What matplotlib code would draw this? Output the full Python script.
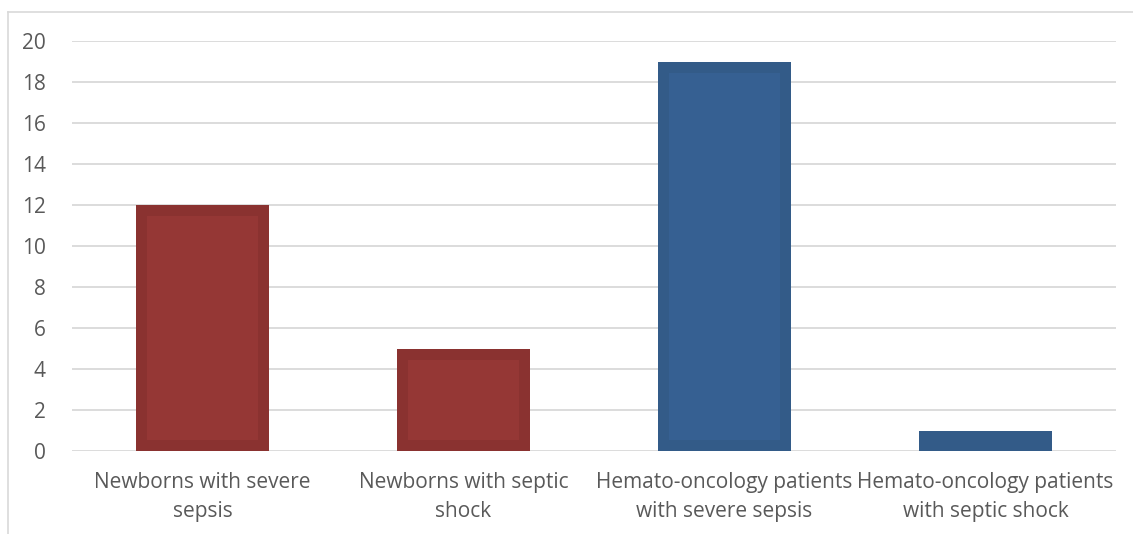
import numpy as np
import matplotlib.pyplot as plt
from matplotlib.lines import Line2D

categories = ["Newborns with severe\nsepsis", "Newborns with septic\nshock",
              "Hemato-oncology patients\nwith severe sepsis", "Hemato-oncology patients\nwith septic shock"]
values = [12, 5, 19, 1]
fill_colors = ["#953735", "#953735", "#366092", "#366092"]
edge_colors = ["#8A3230", "#8A3230", "#335B88", "#335B88"]
yticks = [0, 2, 4, 6, 8, 10, 12, 14, 16, 18, 20]

plt.rcParams['font.family'] = ['Open Sans', 'DejaVu Sans']

W, H = 1133, 534
fig = plt.figure(figsize=(W / 100, H / 100), dpi=100)
ax = fig.add_axes([72 / W, (H - 451) / H, (1116 - 72) / W, (451 - 41) / H])

x = np.arange(len(values))
bw = 0.51
ax.bar(x, values, width=bw, color=edge_colors, zorder=2)

# inner lighter rectangle, inset by ~11 px on each side
px_x = 4 / (1116 - 72)      # data units per pixel (x)
px_y = 20 / (451 - 41)      # data units per pixel (y)
inset = 11
inner_h = [max(v - 2 * inset * px_y, 0) for v in values]
ax.bar(x, inner_h, width=bw - 2 * inset * px_x, bottom=inset * px_y,
       color=fill_colors, zorder=3)

ax.set_xlim(-0.5, 3.5)
ax.set_ylim(0, 20)
ax.set_yticks(yticks)
ax.set_xticks(x)
ax.set_xticklabels(categories, fontsize=15, color="#595959", linespacing=1.5)
ax.tick_params(axis='y', length=0, pad=19, labelsize=15, labelcolor="#595959")
ax.tick_params(axis='x', length=0, pad=15)
ax.yaxis.grid(True, color="#D9D9D9", linewidth=1.3, zorder=0)
ax.set_axisbelow(True)
for s in ax.spines.values():
    s.set_visible(False)

# chart frame
fig.add_artist(Line2D([8 / W, 8 / W], [0, (H - 12) / H], color="#D9D9D9", lw=1.2))
fig.add_artist(Line2D([8 / W, 1], [(H - 12) / H, (H - 12) / H], color="#D9D9D9", lw=1.2))

fig.savefig("out.png", dpi=100)
